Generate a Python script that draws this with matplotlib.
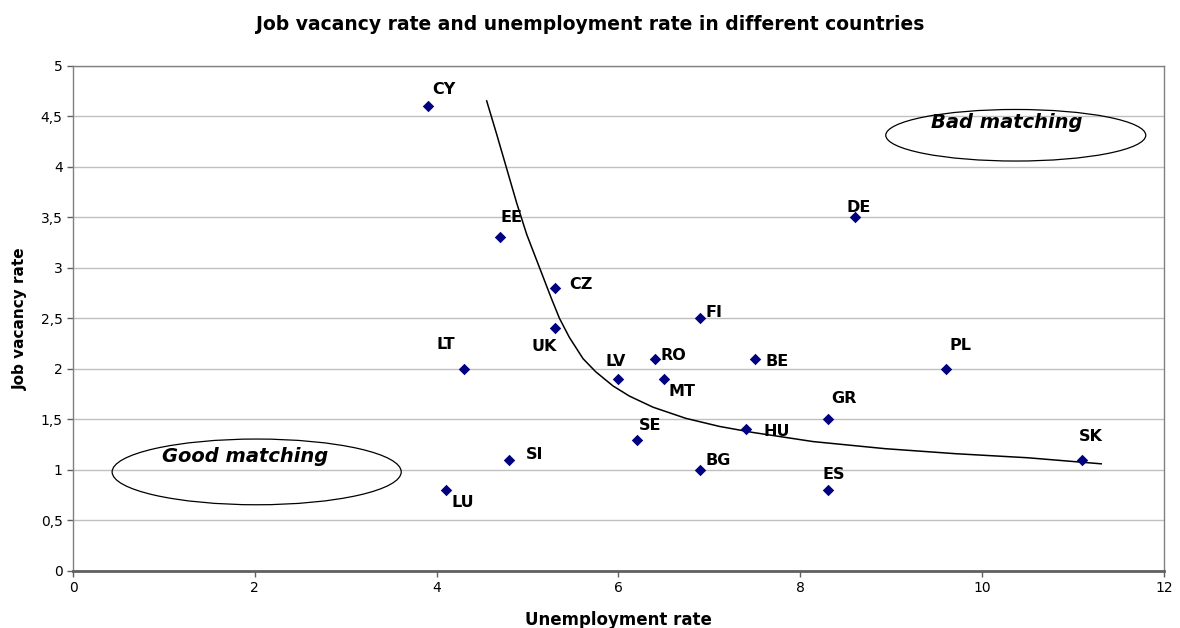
import matplotlib.pyplot as plt
from matplotlib.patches import Ellipse
from matplotlib.ticker import FuncFormatter

plt.rcParams['font.family'] = ['DejaVu Sans']

countries = ['CY', 'EE', 'CZ', 'UK', 'LT', 'LV', 'RO', 'MT', 'FI', 'BE',
             'DE', 'PL', 'GR', 'HU', 'SE', 'BG', 'ES', 'SK', 'SI', 'LU']
unemployment = [3.9, 4.7, 5.3, 5.3, 4.3, 6.0, 6.4, 6.5, 6.9, 7.5,
                8.6, 9.6, 8.3, 7.4, 6.2, 6.9, 8.3, 11.1, 4.8, 4.1]
vacancy = [4.6, 3.3, 2.8, 2.4, 2.0, 1.9, 2.1, 1.9, 2.5, 2.1,
           3.5, 2.0, 1.5, 1.4, 1.3, 1.0, 0.8, 1.1, 1.1, 0.8]

# curve
curve_x = [4.55, 4.66, 4.77, 4.88, 4.99, 5.08, 5.17, 5.26, 5.35, 5.46,
           5.61, 5.75, 5.94, 6.12, 6.38, 6.74, 7.11, 7.48, 8.14, 8.93,
           9.71, 10.50, 11.31]
curve_y = [4.65, 4.32, 3.98, 3.64, 3.33, 3.12, 2.91, 2.70, 2.50, 2.31,
           2.10, 1.97, 1.83, 1.73, 1.62, 1.51, 1.43, 1.37, 1.28, 1.21,
           1.16, 1.12, 1.06]

# label offsets in pixels (dx, dy)
label_off = {
    'CY': (16, 16), 'EE': (11, 20), 'CZ': (26, 3), 'UK': (-11, -18),
    'LT': (-18, 24), 'LV': (-3, 17), 'RO': (19, 3), 'MT': (18, -13),
    'FI': (14, 6), 'BE': (22, -3), 'DE': (4, 10), 'PL': (15, 23),
    'GR': (16, 21), 'HU': (31, -2), 'SE': (13, 14), 'BG': (18, 9),
    'ES': (6, 16), 'SK': (9, 23), 'SI': (25, 5), 'LU': (17, -12),
}

fig = plt.figure(figsize=(11.8, 6.28), dpi=100)
ax = fig.add_axes([0.0619, 0.0908, 0.9245, 0.8049])

ax.set_xlim(0, 12)
ax.set_ylim(0, 5)
ax.set_xticks(range(0, 13, 2))
ax.set_yticks([i * 0.5 for i in range(11)])
ax.yaxis.set_major_formatter(FuncFormatter(
    lambda v, p: ('%g' % v).replace('.', ',')))
ax.grid(axis='y', color='#c0c0c0', linewidth=1)
ax.set_axisbelow(True)

for side in ['top', 'right', 'left']:
    ax.spines[side].set_color('#808080')
    ax.spines[side].set_linewidth(1)
ax.spines['bottom'].set_color('#606060')
ax.spines['bottom'].set_linewidth(2)
ax.tick_params(direction='out', length=4, width=1, color='#606060',
               labelsize=10)

ax.plot(curve_x, curve_y, color='black', linewidth=1.1,
        solid_joinstyle='round')
ax.scatter(unemployment, vacancy, marker='D', s=34, color='#000080',
           linewidths=0, zorder=3)

for c, x, y in zip(countries, unemployment, vacancy):
    dx, dy = label_off[c]
    ax.annotate(c, (x, y), xytext=(dx, dy), textcoords='offset pixels',
                ha='center', va='center', fontsize=11.5, fontweight='bold')

ax.add_patch(Ellipse((10.37, 4.31), 2.86, 0.51, fill=False,
                     edgecolor='black', linewidth=0.9))
ax.text(10.27, 4.44, 'Bad matching', ha='center', va='center',
        fontsize=14, fontweight='bold', style='italic')
ax.add_patch(Ellipse((2.02, 0.98), 3.18, 0.65, fill=False,
                     edgecolor='black', linewidth=0.9))
ax.text(1.89, 1.13, 'Good matching', ha='center', va='center',
        fontsize=14, fontweight='bold', style='italic')

fig.text(0.5, 0.961, 'Job vacancy rate and unemployment rate in different countries',
         ha='center', va='center', fontsize=13.5, fontweight='bold')
ax.set_xlabel('Unemployment rate', fontsize=12, fontweight='bold', labelpad=11)
ax.set_ylabel('Job vacancy rate', fontsize=11, fontweight='bold', labelpad=9)

fig.savefig('out.png', dpi=100)
